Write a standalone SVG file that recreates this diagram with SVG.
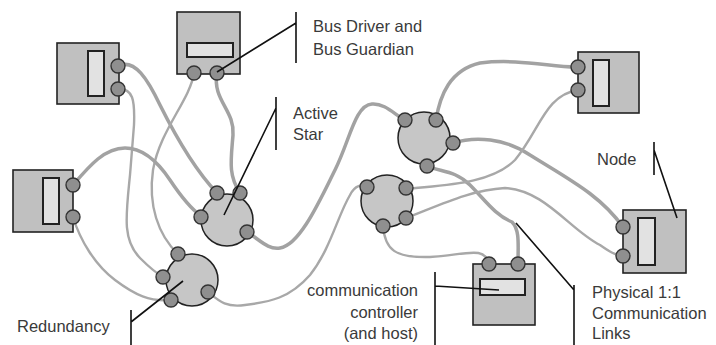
<svg xmlns="http://www.w3.org/2000/svg" width="716" height="345" viewBox="0 0 716 345">
  <style>
    .box { fill: #c0c0c0; stroke: #222; stroke-width: 1.6; }
    .win { fill: #e2e2e2; stroke: #222; stroke-width: 2; }
    .port { fill: #8f8f8f; stroke: #333; stroke-width: 1.4; }
    .star { fill: #c6c6c6; stroke: #222; stroke-width: 1.5; }
    .linkA { fill: none; stroke: #a2a2a2; stroke-width: 3.5; stroke-linecap: round; }
    .linkB { fill: none; stroke: #a8a8a8; stroke-width: 2.4; stroke-linecap: round; }
    .lead { fill: none; stroke: #111; stroke-width: 1.6; }
    .lbl { font-family: "Liberation Sans", Arial, sans-serif; font-size: 16.5px; fill: #3a3a3a; }
  </style>

  <!-- cables between nodes and stars -->
  <g id="links">
    <path class="linkA" d="M118,66 C135,58 148,80 160,105 C175,135 195,170 217,193"/>
    <path class="linkB" d="M118,89 C133,88 135,100 134,125 L130,175 C126,215 122,240 140,258 C150,268 156,273 163,277"/>
    <path class="linkB" d="M194,73 C190,100 160,130 153,170 C148,205 158,235 178,254"/>
    <path class="linkA" d="M217,73 C212,100 235,110 233,135 C231,160 228,175 240,193"/>
    <path class="linkA" d="M73,185 C90,165 105,148 125,148 C145,148 160,165 170,180 C180,195 190,208 201,216"/>
    <path class="linkB" d="M73,217 C80,240 95,265 115,280 C135,295 150,302 171,300"/>
    <path class="linkA" d="M247,232 C260,240 268,250 280,248 C300,245 320,200 335,170 C350,140 355,105 372,104 C385,103 395,115 405,120"/>
    <path class="linkB" d="M208,292 C218,300 225,308 245,305 C270,302 290,298 310,275 C330,250 338,215 350,195 C355,185 362,184 367,187"/>
    <path class="linkA" d="M436,120 C440,95 450,70 480,63 C520,58 555,68 578,67"/>
    <path class="linkA" d="M453,143 C475,136 505,138 530,155 C570,180 600,195 623,227"/>
    <path class="linkA" d="M427,166 C440,172 455,170 470,185 C485,200 495,215 512,222 C520,230 518,245 518,264"/>
    <path class="linkB" d="M578,90 C545,95 540,130 515,160 C490,185 440,185 406,189"/>
    <path class="linkB" d="M406,218 C440,205 470,190 505,188 C545,190 570,230 600,245 C610,252 615,255 623,256"/>
    <path class="linkB" d="M383,226 C385,250 395,258 430,257 C465,255 485,245 489,264"/>
  </g>

  <!-- nodes -->
  <g id="node-a">
    <rect class="box" x="57" y="43" width="62" height="61"/>
    <rect class="win" x="88" y="51" width="16" height="45"/>
    <circle class="port" cx="118" cy="66" r="7"/>
    <circle class="port" cx="118" cy="89" r="7"/>
  </g>
  <g id="node-b">
    <rect class="box" x="177" y="12" width="63" height="62"/>
    <rect class="win" x="187" y="43" width="46" height="14"/>
    <circle class="port" cx="194" cy="73" r="7"/>
    <circle class="port" cx="217" cy="73" r="7"/>
  </g>
  <g id="node-c">
    <rect class="box" x="13" y="170" width="60" height="62"/>
    <rect class="win" x="43" y="178" width="16" height="46"/>
    <circle class="port" cx="73" cy="185" r="7"/>
    <circle class="port" cx="73" cy="217" r="7"/>
  </g>
  <g id="node-d">
    <rect class="box" x="578" y="52" width="61" height="61"/>
    <rect class="win" x="593" y="60" width="16" height="46"/>
    <circle class="port" cx="578" cy="67" r="7"/>
    <circle class="port" cx="578" cy="90" r="7"/>
  </g>
  <g id="node-e">
    <rect class="box" x="623" y="210" width="63" height="63"/>
    <rect class="win" x="638" y="218" width="17" height="47"/>
    <circle class="port" cx="623" cy="227" r="7"/>
    <circle class="port" cx="623" cy="256" r="7"/>
  </g>
  <g id="node-f">
    <rect class="box" x="473" y="264" width="62" height="61"/>
    <rect class="win" x="480" y="279" width="45" height="16"/>
    <circle class="port" cx="489" cy="264" r="7"/>
    <circle class="port" cx="518" cy="264" r="7"/>
  </g>

  <!-- active stars -->
  <g id="star-1">
    <circle class="star" cx="227" cy="220" r="26"/>
    <circle class="port" cx="217" cy="193" r="7"/>
    <circle class="port" cx="240" cy="193" r="7"/>
    <circle class="port" cx="201" cy="217" r="7"/>
    <circle class="port" cx="247" cy="232" r="7"/>
  </g>
  <g id="star-2">
    <circle class="star" cx="192" cy="280" r="26"/>
    <circle class="port" cx="178" cy="254" r="7"/>
    <circle class="port" cx="163" cy="277" r="7"/>
    <circle class="port" cx="171" cy="300" r="7"/>
    <circle class="port" cx="208" cy="292" r="7"/>
  </g>
  <g id="star-3">
    <circle class="star" cx="424" cy="138" r="26"/>
    <circle class="port" cx="405" cy="120" r="7"/>
    <circle class="port" cx="436" cy="120" r="7"/>
    <circle class="port" cx="453" cy="143" r="7"/>
    <circle class="port" cx="427" cy="166" r="7"/>
  </g>
  <g id="star-4">
    <circle class="star" cx="387" cy="201" r="26"/>
    <circle class="port" cx="367" cy="187" r="7"/>
    <circle class="port" cx="406" cy="188" r="7"/>
    <circle class="port" cx="406" cy="218" r="7"/>
    <circle class="port" cx="383" cy="226" r="7"/>
  </g>

  <!-- callouts -->
  <g id="callouts">
    <path class="lead" d="M296,12 V63 M296,23 L217,72"/>
    <path class="lead" d="M276,97 V150 M276,108 L224,215"/>
    <path class="lead" d="M131,310 V345 M131,322 L183,281"/>
    <path class="lead" d="M654,142 V175 M654,150 L677,218"/>
    <path class="lead" d="M435,272 V345 M435,286 L499,290"/>
    <path class="lead" d="M574,285 V345 M574,290 L516,223"/>
  </g>

  <g id="labels">
    <text class="lbl" x="313" y="32">Bus Driver and</text>
    <text class="lbl" x="313" y="55">Bus Guardian</text>
    <text class="lbl" x="293" y="119">Active</text>
    <text class="lbl" x="293" y="140">Star</text>
    <text class="lbl" x="597" y="165">Node</text>
    <text class="lbl" x="418" y="296" text-anchor="end">communication</text>
    <text class="lbl" x="418" y="318" text-anchor="end">controller</text>
    <text class="lbl" x="418" y="339" text-anchor="end">(and host)</text>
    <text class="lbl" x="592" y="298">Physical 1:1</text>
    <text class="lbl" x="592" y="319">Communication</text>
    <text class="lbl" x="592" y="339">Links</text>
    <text class="lbl" x="17" y="332">Redundancy</text>
  </g>
</svg>
